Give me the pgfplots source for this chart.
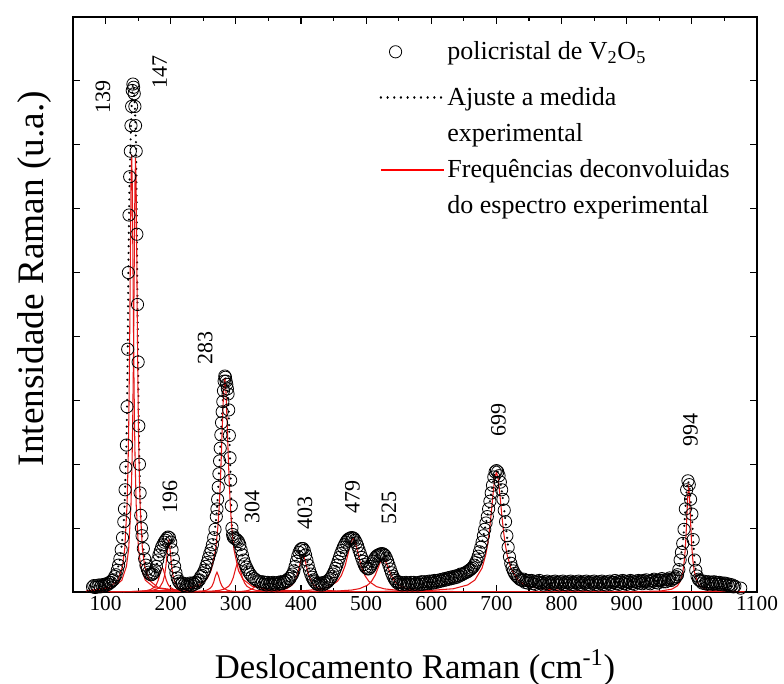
\documentclass[border=0pt]{standalone}
\usepackage{fontspec}
\setmainfont{Liberation Serif}
\usepackage{pgfplots}
\usepackage{pgfplotstable}
\pgfplotsset{compat=1.18}
\definecolor{fitred}{RGB}{228,22,22}
\pgfplotsset{circlelegend/.style={legend image code/.code={%
    \path (0pt,-16.6pt) (47pt,4.6pt);
    \draw[##1] plot coordinates {(11pt,0pt)};}}}

% measured spectrum (x in cm^-1, intensity in arbitrary units)
\pgfplotstableread{
x y
80 0.08
82 0.10
84 0.07
86 0.10
88 0.08
90 0.11
92 0.08
94 0.11
96 0.09
98 0.12
100 0.10
102 0.13
104 0.12
106 0.15
108 0.15
110 0.18
112 0.19
114 0.24
116 0.27
118 0.34
120 0.42
122 0.52
124 0.66
126 0.85
128 1.10
129 1.30
130 1.60
131 1.95
132 2.30
133 2.90
134 3.80
135 5.00
136 5.90
137 6.50
138 6.90
139 7.30
140 7.60
141 7.85
142 7.95
143 7.90
144 7.80
145 7.60
146 7.30
147 6.90
148 5.60
149 4.50
150 3.60
151 2.60
152 2.00
153 1.55
154 1.20
155 1.00
156 0.88
158 0.68
160 0.52
162 0.42
164 0.36
166 0.31
168 0.28
170 0.27
172 0.28
174 0.30
176 0.34
178 0.40
180 0.50
182 0.58
184 0.64
186 0.70
188 0.74
190 0.78
192 0.81
194 0.84
196 0.86
198 0.85
200 0.78
202 0.66
204 0.52
206 0.40
208 0.30
210 0.22
212 0.17
214 0.14
216 0.12
218 0.14
220 0.10
222 0.13
224 0.09
226 0.12
228 0.11
230 0.14
232 0.10
234 0.14
236 0.12
238 0.15
240 0.14
242 0.18
244 0.19
246 0.24
248 0.26
250 0.30
252 0.34
254 0.40
256 0.46
258 0.53
260 0.60
262 0.66
264 0.74
266 0.85
268 0.98
270 1.18
271 1.30
272 1.45
273 1.64
274 1.85
275 2.05
276 2.25
277 2.46
278 2.65
279 2.82
280 2.98
281 3.15
282 3.30
283 3.38
284 3.36
285 3.30
286 3.25
287 3.18
288 3.10
289 2.85
290 2.45
291 2.10
292 1.75
293 1.35
294 1.00
295 0.90
296 0.86
298 0.84
300 0.83
302 0.81
304 0.79
306 0.74
308 0.66
310 0.58
312 0.50
314 0.44
316 0.39
318 0.35
320 0.31
322 0.28
325 0.24
328 0.21
331 0.19
334 0.17
337 0.16
339 0.13
341 0.16
343 0.12
345 0.15
347 0.11
349 0.15
351 0.12
353 0.14
355 0.11
357 0.15
359 0.12
361 0.14
363 0.11
365 0.15
367 0.13
369 0.16
371 0.13
373 0.16
375 0.15
377 0.18
379 0.17
381 0.21
383 0.21
385 0.25
387 0.28
389 0.33
391 0.40
393 0.48
395 0.56
397 0.62
399 0.66
401 0.68
403 0.68
405 0.65
407 0.58
409 0.50
411 0.42
413 0.34
415 0.28
417 0.23
419 0.19
421 0.16
423 0.14
425 0.12
427 0.14
429 0.11
431 0.14
433 0.11
435 0.15
437 0.13
439 0.16
441 0.16
443 0.19
445 0.21
447 0.24
449 0.28
451 0.32
453 0.37
455 0.42
457 0.48
459 0.54
461 0.60
463 0.65
465 0.70
467 0.74
469 0.78
471 0.81
473 0.83
475 0.84
477 0.85
479 0.85
481 0.84
483 0.81
485 0.77
487 0.72
489 0.66
491 0.60
493 0.54
495 0.48
497 0.43
499 0.39
501 0.37
503 0.36
505 0.37
507 0.40
509 0.44
511 0.48
513 0.52
515 0.55
517 0.57
519 0.58
521 0.59
523 0.60
525 0.60
527 0.59
529 0.57
531 0.53
533 0.48
535 0.42
537 0.36
539 0.30
541 0.25
543 0.21
545 0.18
547 0.15
549 0.16
551 0.12
553 0.15
555 0.11
557 0.14
559 0.12
561 0.15
563 0.11
565 0.14
567 0.12
569 0.15
571 0.11
573 0.15
575 0.12
577 0.14
579 0.11
581 0.15
583 0.12
585 0.16
587 0.12
589 0.16
591 0.13
593 0.16
595 0.13
597 0.17
599 0.14
601 0.17
603 0.14
605 0.18
607 0.15
609 0.18
611 0.16
613 0.19
615 0.17
617 0.20
619 0.18
621 0.21
623 0.19
625 0.22
627 0.20
629 0.23
631 0.21
633 0.24
635 0.22
637 0.25
639 0.23
641 0.26
643 0.25
645 0.28
647 0.27
650 0.29
652 0.30
654 0.31
656 0.32
658 0.34
660 0.35
662 0.37
664 0.39
666 0.42
668 0.46
670 0.50
672 0.56
674 0.63
676 0.70
678 0.78
680 0.88
682 0.98
684 1.08
686 1.18
688 1.30
690 1.42
692 1.55
694 1.67
696 1.80
698 1.88
700 1.90
702 1.88
704 1.82
706 1.72
708 1.60
710 1.45
712 1.28
714 1.10
716 0.88
718 0.70
720 0.55
722 0.45
724 0.38
726 0.33
728 0.29
730 0.26
732 0.24
734 0.22
736 0.20
738 0.19
740 0.18
742 0.20
744 0.15
746 0.18
748 0.14
750 0.18
752 0.16
754 0.18
756 0.13
758 0.16
760 0.12
762 0.17
764 0.15
766 0.18
768 0.13
770 0.15
772 0.11
774 0.16
776 0.14
778 0.17
780 0.12
782 0.15
784 0.11
786 0.16
788 0.14
790 0.17
792 0.12
794 0.15
796 0.11
798 0.16
800 0.14
802 0.17
804 0.12
806 0.15
808 0.11
810 0.16
812 0.14
814 0.17
816 0.12
818 0.15
820 0.11
822 0.16
824 0.14
826 0.17
828 0.12
830 0.15
832 0.11
834 0.16
836 0.14
838 0.17
840 0.12
842 0.15
844 0.11
846 0.16
848 0.14
850 0.17
852 0.12
854 0.15
856 0.11
858 0.16
860 0.14
862 0.17
864 0.12
866 0.15
868 0.11
870 0.16
872 0.14
874 0.17
876 0.12
878 0.15
880 0.15
882 0.18
884 0.13
886 0.16
888 0.12
890 0.17
892 0.15
894 0.18
896 0.13
898 0.16
900 0.12
902 0.17
904 0.15
906 0.18
908 0.13
910 0.16
912 0.12
914 0.17
916 0.15
918 0.18
920 0.14
922 0.17
924 0.13
926 0.18
928 0.16
930 0.19
932 0.14
934 0.17
936 0.13
938 0.18
940 0.17
942 0.20
944 0.15
946 0.18
948 0.14
950 0.19
952 0.18
954 0.21
956 0.16
958 0.19
960 0.16
962 0.20
964 0.19
966 0.22
968 0.18
970 0.20
972 0.21
974 0.22
976 0.24
978 0.27
980 0.35
982 0.50
984 0.62
986 0.76
988 0.98
990 1.30
992 1.60
994 1.74
996 1.68
998 1.45
1000 1.22
1002 0.82
1004 0.50
1006 0.34
1008 0.25
1010 0.20
1012 0.18
1014 0.17
1016 0.14
1018 0.17
1020 0.13
1022 0.16
1024 0.12
1026 0.16
1028 0.13
1030 0.15
1032 0.12
1034 0.16
1036 0.13
1038 0.15
1040 0.12
1042 0.15
1044 0.12
1046 0.14
1048 0.11
1050 0.14
1052 0.11
1054 0.13
1056 0.10
1058 0.12
1060 0.09
1062 0.11
1064 0.08
1066 0.09
1075 0.06
}\spectrum

\begin{document}
\begin{tikzpicture}
\useasboundingbox (-54.75pt,-69pt) rectangle (533.25pt,444pt);
\begin{axis}[
    scale only axis,
    width=513pt, height=431.25pt,
    xmin=50, xmax=1100,
    ymin=0, ymax=9,
    xtick={100,200,...,1100},
    minor xtick={50,150,...,1050},
    ytick={0,1,...,9},
    yticklabels={},
    tick align=inside,
    major tick length=5pt,
    minor tick length=3pt,
    axis line style={line width=1.2pt},
    every tick/.style={black, line width=0.9pt},
    /pgf/number format/assume math mode=true,
    /pgf/number format/1000 sep={},
    tick label style={font=\fontsize{16}{16}\selectfont},
    xlabel={Deslocamento Raman (cm\textsuperscript{-1})},
    ylabel={Intensidade Raman (u.a.)},
    xlabel style={font=\fontsize{26}{26}\selectfont,
        at={(axis description cs:0.5,-0.1496)}, anchor=base},
    ylabel style={font=\fontsize{28}{28}\selectfont,
        at={(axis description cs:-0.0556,0.545)}, anchor=center},
    legend style={draw=none, fill=none, at={(axis description cs:0.448,0.962)},
        anchor=north west, font=\fontsize{19.5}{24}\selectfont,
        row sep=8pt, inner sep=0pt, nodes={inner sep=2pt}},
    legend cell align=left,
    legend image code/.code={\draw[#1] (0pt,0pt) -- (47pt,0pt);},
]
\addplot[only marks, mark=o, mark size=4.6pt, mark options={line width=0.6pt}, circlelegend]
    table[x=x, y=y] {\spectrum};
\addlegendentry{policristal de V\textsubscript{2}O\textsubscript{5}\rule[-16pt]{0pt}{16pt}}

\addplot[black, line width=1.8pt, line cap=round, dash pattern=on 0.01pt off 5pt]
    table[x=x, y=y] {\spectrum};
\addlegendentry{Ajuste a medida}
\addlegendimage{empty legend}
\addlegendentry{experimental}
\addlegendimage{red, line width=1.3pt}
\addlegendentry{Frequências deconvoluidas}
\addlegendimage{empty legend}
\addlegendentry{do espectro experimental}

% deconvoluted components
\addplot[fitred, line width=0.8pt, forget plot] coordinates {(70,0.017) (105,0.068) (119,0.185) (126,0.403) (129.5,0.685) (133,1.37) (134.75,2.11) (135.63,2.67) (136.5,3.43) (137.38,4.38) (138.25,5.48) (139.13,6.45) (140,6.85) (140.88,6.45) (141.75,5.48) (142.63,4.38) (143.5,3.43) (144.38,2.67) (145.25,2.11) (147,1.37) (150.5,0.685) (154,0.403) (161,0.185) (175,0.068) (210,0.017)};
\addplot[fitred, line width=0.8pt, forget plot] coordinates {(76,0.017) (111,0.067) (125,0.184) (132,0.4) (135.5,0.68) (139,1.36) (140.75,2.09) (141.63,2.65) (142.5,3.4) (143.38,4.35) (144.25,5.44) (145.13,6.4) (146,6.8) (146.88,6.4) (147.75,5.44) (148.63,4.35) (149.5,3.4) (150.38,2.65) (151.25,2.09) (153,1.36) (156.5,0.68) (160,0.4) (167,0.184) (181,0.067) (216,0.017)};
\addplot[fitred, line width=0.8pt, forget plot] coordinates {(127,0.004) (151,0.01) (163,0.022) (169,0.038) (175,0.076) (178,0.117) (181,0.19) (184,0.304) (185.5,0.358) (187,0.38) (188.5,0.358) (190,0.304) (193,0.19) (196,0.117) (199,0.076) (205,0.038) (211,0.022) (223,0.01) (247,0.004)};
\addplot[fitred, line width=0.8pt, forget plot] coordinates {(107,0.002) (152,0.008) (170,0.022) (179,0.047) (183.5,0.08) (188,0.16) (190.25,0.246) (191.38,0.312) (192.5,0.4) (193.63,0.512) (194.75,0.64) (195.88,0.753) (197,0.8) (198.13,0.753) (199.25,0.64) (200.38,0.512) (201.5,0.4) (202.63,0.312) (203.75,0.246) (206,0.16) (210.5,0.08) (215,0.047) (224,0.022) (242,0.008) (287,0.002)};
\addplot[fitred, line width=0.8pt, forget plot] coordinates {(221,0.003) (241,0.008) (251,0.018) (256,0.031) (261,0.062) (263.5,0.095) (266,0.155) (268.5,0.248) (271,0.31) (273.5,0.248) (276,0.155) (278.5,0.095) (281,0.062) (286,0.031) (291,0.018) (301,0.008) (321,0.003)};
\addplot[fitred, line width=0.8pt, forget plot] coordinates {(143,0.008) (213,0.033) (241,0.09) (255,0.197) (262,0.335) (269,0.67) (272.5,1.032) (274.25,1.307) (276,1.675) (277.75,2.144) (279.5,2.68) (281.25,3.152) (283,3.35) (284.75,3.152) (286.5,2.68) (288.25,2.144) (290,1.675) (291.75,1.307) (293.5,1.032) (297,0.67) (304,0.335) (311,0.197) (325,0.09) (353,0.033) (423,0.008)};
\addplot[fitred, line width=0.8pt, forget plot] coordinates {(233,0.005) (261,0.012) (275,0.026) (282,0.045) (289,0.09) (292.5,0.139) (296,0.225) (299.5,0.36) (301.25,0.423) (303,0.45) (304.75,0.423) (306.5,0.36) (310,0.225) (313.5,0.139) (317,0.09) (324,0.045) (331,0.026) (345,0.012) (373,0.005)};
\addplot[fitred, line width=0.8pt, forget plot] coordinates {(253,0.001) (285,0.003) (301,0.006) (309,0.01) (317,0.02) (321,0.031) (325,0.05) (329,0.08) (333,0.1) (337,0.08) (341,0.05) (345,0.031) (349,0.02) (357,0.01) (365,0.006) (381,0.003) (413,0.001)};
\addplot[fitred, line width=0.8pt, forget plot] coordinates {(323,0.006) (355,0.016) (371,0.034) (379,0.058) (387,0.116) (391,0.179) (395,0.29) (399,0.464) (401,0.546) (403,0.58) (405,0.546) (407,0.464) (411,0.29) (415,0.179) (419,0.116) (427,0.058) (435,0.034) (451,0.016) (483,0.006)};
\addplot[fitred, line width=0.8pt, forget plot] coordinates {(360,0.008) (408,0.023) (432,0.049) (444,0.084) (456,0.168) (462,0.259) (468,0.42) (474,0.672) (477,0.79) (480,0.84) (483,0.79) (486,0.672) (492,0.42) (498,0.259) (504,0.168) (516,0.084) (528,0.049) (552,0.023) (600,0.008)};
\addplot[fitred, line width=0.8pt, forget plot] coordinates {(406,0.005) (454,0.014) (478,0.031) (490,0.053) (502,0.106) (508,0.163) (514,0.265) (520,0.424) (523,0.499) (526,0.53) (529,0.499) (532,0.424) (538,0.265) (544,0.163) (550,0.106) (562,0.053) (574,0.031) (598,0.014) (646,0.005)};
\addplot[fitred, line width=0.8pt, forget plot] coordinates {(480,0.005) (590,0.019) (634,0.051) (656,0.111) (667,0.188) (678,0.376) (683.5,0.579) (686.25,0.733) (689,0.94) (691.75,1.203) (694.5,1.504) (697.25,1.769) (700,1.88) (702.75,1.769) (705.5,1.504) (708.25,1.203) (711,0.94) (713.75,0.733) (716.5,0.579) (722,0.376) (733,0.188) (744,0.111) (766,0.051) (810,0.019) (920,0.005)};
\addplot[fitred, line width=0.8pt, forget plot] coordinates {(909,0.004) (952,0.016) (969.2,0.044) (977.8,0.096) (982.1,0.164) (986.4,0.328) (988.55,0.505) (989.63,0.64) (990.7,0.82) (991.78,1.05) (992.85,1.312) (993.93,1.543) (995,1.64) (996.08,1.543) (997.15,1.312) (998.23,1.05) (999.3,0.82) (1000.38,0.64) (1001.45,0.505) (1003.6,0.328) (1007.9,0.164) (1012.2,0.096) (1020.8,0.044) (1038,0.016) (1081,0.004)};
\addplot[fitred, line width=0.8pt, forget plot] coordinates {(80,0.012) (1080,0.012)};

% peak positions
\begin{scope}[every node/.style={rotate=90, font=\fontsize{16.5}{16.5}\selectfont}]
\node at (axis cs:96,7.75) {139};
\node at (axis cs:183,8.14) {147};
\node at (axis cs:199,1.49) {196};
\node at (axis cs:253,3.82) {283};
\node at (axis cs:325,1.33) {304};
\node at (axis cs:406,1.24) {403};
\node at (axis cs:479,1.49) {479};
\node at (axis cs:535,1.31) {525};
\node at (axis cs:703,2.69) {699};
\node at (axis cs:998,2.54) {994};
\end{scope}
\end{axis}
\end{tikzpicture}
\end{document}
